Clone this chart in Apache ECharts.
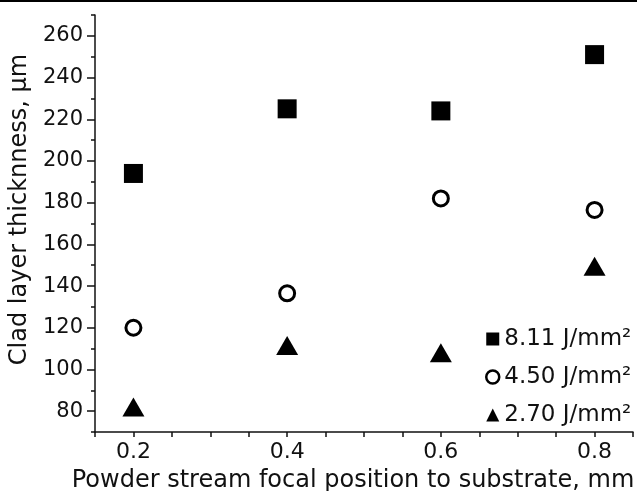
<!DOCTYPE html>
<html>
<head>
<meta charset="utf-8">
<script src="https://cdn.jsdelivr.net/npm/echarts@6/dist/echarts.min.js"></script>
<style>
  html, body { margin: 0; padding: 0; background: #fff; }
  #chart { width: 637px; height: 491px; }
</style>
</head>
<body>
<div id="chart"></div>
<script>
// 数据
var seriesNames = ['8.11 J/mm²', '4.50 J/mm²', '2.70 J/mm²'];
var xValues = [0.2, 0.4, 0.6, 0.8];
var high = [194, 225, 224, 251];
var mid = [120, 136.5, 182, 176.5];
var low = [82, 111.5, 108, 149.5];
var xTickLabels = [0.2, 0.4, 0.6, 0.8];
var yTickLabels = [80, 100, 120, 140, 160, 180, 200, 220, 240, 260];

function pairs(ys) {
    return xValues.map(function (x, i) { return [x, ys[i]]; });
}

var font = 'DejaVu Sans';
var chart = echarts.init(document.getElementById('chart'));

var option = {
    backgroundColor: '#fff',
    animation: false,
    textStyle: { fontFamily: font, color: '#111' },
    graphic: [{
        type: 'rect',
        shape: { x: 0, y: 0, width: 637, height: 2 },
        style: { fill: '#000' }
    }],
    grid: { left: 95, right: 4, top: 15, bottom: 59, containLabel: false, outerBoundsMode: 'none' },
    legend: {
        orient: 'vertical',
        left: 480,
        top: 322,
        itemWidth: 13,
        itemHeight: 13,
        itemGap: 14,
        textStyle: { fontFamily: font, fontSize: 23, color: '#111', lineHeight: 24 },
        data: [
            { name: seriesNames[0], icon: 'rect', itemStyle: { color: '#000', borderWidth: 0 } },
            { name: seriesNames[1], icon: 'circle', itemStyle: { color: '#fff', borderColor: '#000', borderWidth: 2.5 } },
            { name: seriesNames[2], icon: 'triangle', itemStyle: { color: '#000', borderWidth: 0 } }
        ]
    },
    xAxis: {
        type: 'value',
        min: 0.15,
        max: 0.85,
        interval: 0.05,
        name: 'Powder stream focal position to substrate, mm',
        nameLocation: 'middle',
        nameGap: 37,
        nameTextStyle: { fontFamily: font, fontSize: 24, color: '#111', padding: [0, 22, 0, 0] },
        axisLine: { onZero: false, lineStyle: { color: '#111', width: 1.5 } },
        axisTick: { inside: false, length: 5, lineStyle: { color: '#111', width: 1.5 } },
        axisLabel: {
            customValues: xTickLabels,
            margin: 9,
            fontFamily: font, fontSize: 22, color: '#111',
            formatter: function (v) { return v.toFixed(1); }
        },
        splitLine: { show: false }
    },
    yAxis: [{
        type: 'value',
        min: 70,
        max: 270,
        name: 'Clad layer thicknness, µm',
        nameLocation: 'middle',
        nameGap: 59,
        nameTextStyle: { fontFamily: font, fontSize: 24, color: '#111', padding: [0, 0, 0, 28] },
        axisLine: { show: true, onZero: false, lineStyle: { color: '#111', width: 1.5 } },
        axisTick: { show: true, customValues: yTickLabels, length: 8, lineStyle: { color: '#111', width: 1.5 } },
        axisLabel: { customValues: yTickLabels, margin: 12, fontFamily: font, fontSize: 21, color: '#111' },
        splitLine: { show: false }
    }, {
        type: 'value',
        min: 70,
        max: 270,
        interval: 10,
        position: 'left',
        axisLine: { show: false },
        axisTick: { show: true, length: 4, lineStyle: { color: '#111', width: 1.5 } },
        axisLabel: { show: false },
        splitLine: { show: false }
    }],
    series: [{
        name: seriesNames[0],
        type: 'scatter',
        symbol: 'rect',
        symbolSize: 19,
        itemStyle: { color: '#000', opacity: 1 },
        data: pairs(high)
    }, {
        name: seriesNames[1],
        type: 'scatter',
        symbol: 'circle',
        symbolSize: 15,
        itemStyle: { color: '#fff', borderColor: '#000', borderWidth: 3, opacity: 1 },
        data: pairs(mid)
    }, {
        name: seriesNames[2],
        type: 'scatter',
        symbol: 'triangle',
        symbolSize: [22, 19],
        itemStyle: { color: '#000', opacity: 1 },
        data: pairs(low)
    }]
};

chart.setOption(option);
</script>
</body>
</html>
